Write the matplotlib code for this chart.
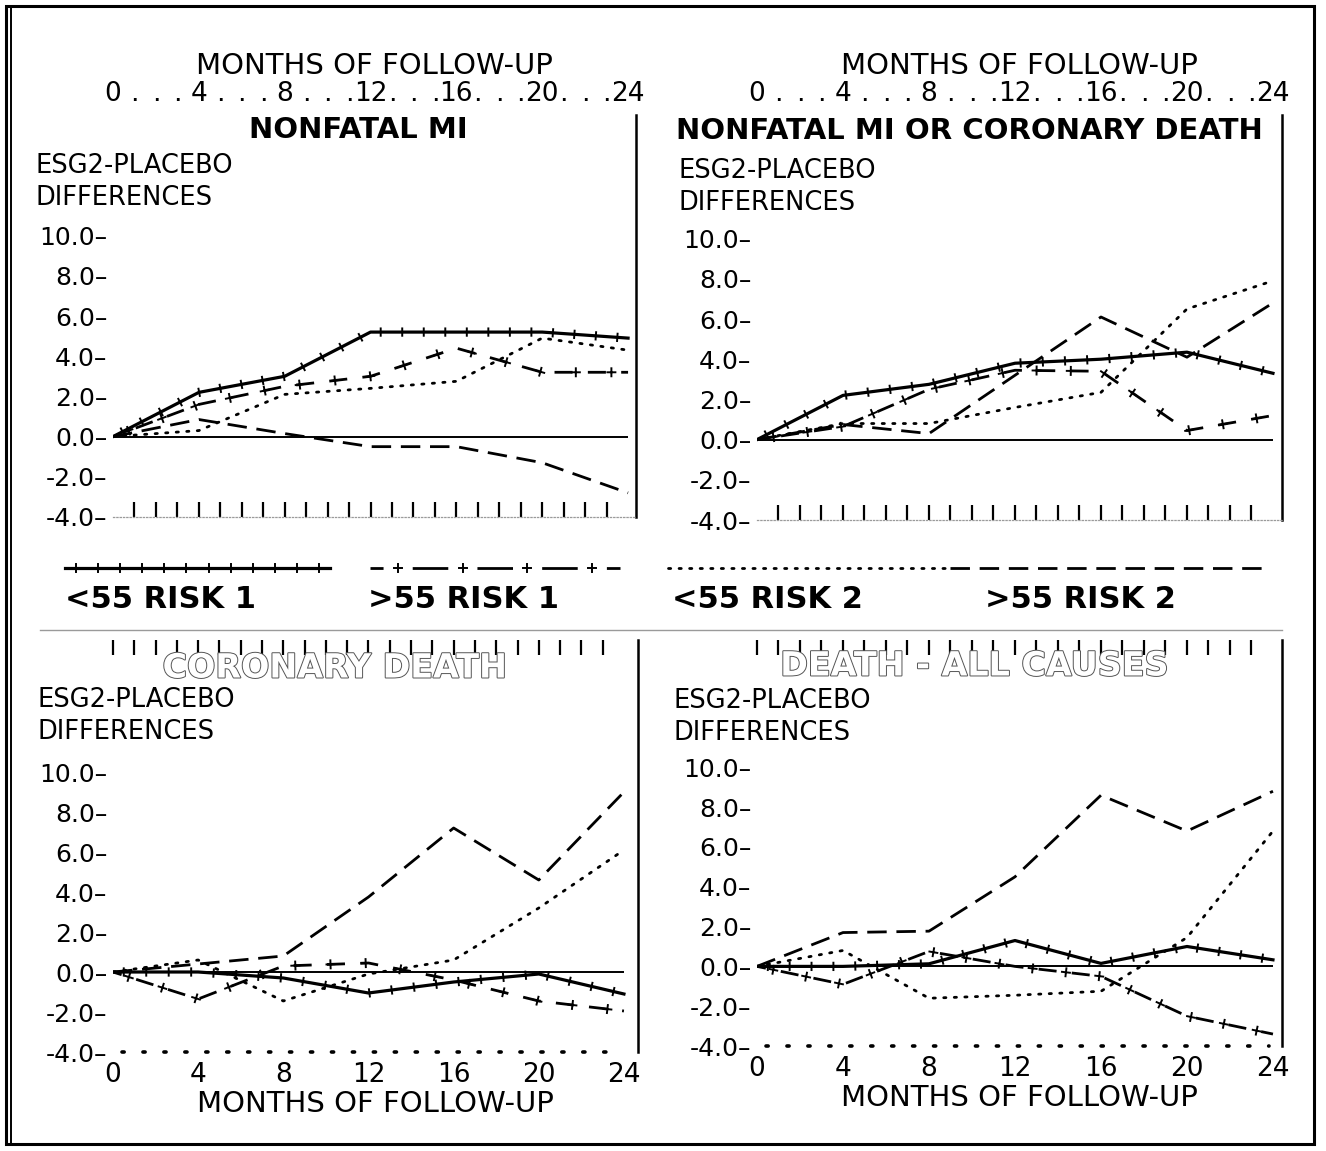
import matplotlib
matplotlib.use("Agg")
import matplotlib.pyplot as plt
import matplotlib.patheffects as pe
from matplotlib.patches import Rectangle
from matplotlib.lines import Line2D
from matplotlib.ticker import NullFormatter

plt.rcParams['font.family'] = ['DejaVu Sans']

W, H = 1326, 1151

# months of follow-up
months = [0, 4, 8, 12, 16, 20, 24]

# ESG2 - placebo differences
mi_lt55_r1 = [0.0, 2.2, 3.0, 5.2, 5.2, 5.2, 4.9]
mi_gt55_r1 = [0.0, 1.6, 2.5, 3.0, 4.4, 3.2, 3.2]
mi_lt55_r2 = [0.0, 0.3, 2.1, 2.4, 2.75, 4.9, 4.3]
mi_gt55_r2 = [0.0, 0.85, 0.15, -0.5, -0.5, -1.3, -2.8]

micd_lt55_r1 = [0.0, 2.2, 2.75, 3.8, 4.0, 4.35, 3.3]
micd_gt55_r1 = [0.0, 0.65, 2.5, 3.45, 3.4, 0.45, 1.2]
micd_lt55_r2 = [0.0, 0.8, 0.8, 1.6, 2.35, 6.5, 7.9]
micd_gt55_r2 = [0.0, 0.75, 0.3, 3.2, 6.1, 4.1, 6.8]

cd_lt55_r1 = [0.0, 0.0, -0.3, -1.05, -0.5, -0.1, -1.1]
cd_gt55_r1 = [0.0, -1.35, 0.3, 0.45, -0.4, -1.45, -1.95]
cd_lt55_r2 = [0.0, 0.6, -1.45, -0.1, 0.6, 3.2, 6.1]
cd_gt55_r2 = [0.0, 0.4, 0.8, 3.75, 7.2, 4.6, 9.0]

da_lt55_r1 = [0.0, 0.0, 0.13, 1.3, 0.15, 1.0, 0.33]
da_gt55_r1 = [0.0, -0.9, 0.75, 0.0, -0.5, -2.5, -3.4]
da_lt55_r2 = [0.0, 0.8, -1.6, -1.45, -1.25, 1.45, 6.8]
da_gt55_r2 = [0.0, 1.7, 1.77, 4.5, 8.6, 6.8, 8.8]

group_labels = ['<55 RISK 1', '>55 RISK 1', '<55 RISK 2', '>55 RISK 2']
y_ticks = [-4, -2, 0, 2, 4, 6, 8, 10]
x_major = [0, 4, 8, 12, 16, 20, 24]
x_dots = [m for m in range(25) if m % 4 != 0]


def plus_ticks(spacing, length, lw=1.4, arms=False):
    fx = [pe.TickedStroke(spacing=spacing, angle=90, length=length, linewidth=lw),
          pe.TickedStroke(spacing=spacing, angle=-90, length=length, linewidth=lw)]
    if arms:
        fx += [pe.TickedStroke(spacing=spacing, angle=0, length=length, linewidth=lw),
               pe.TickedStroke(spacing=spacing, angle=180, length=length, linewidth=lw)]
    return fx


def draw_series(ax, x, y, kind, plus_gap=24, dash=(3.25, (6.5, 5.5))):
    if kind == 0:
        ax.plot(x, y, color='black', lw=2.3, solid_joinstyle='round')
        ax.plot(x, y, color='black', lw=1.4, path_effects=plus_ticks(15.5, 0.17))
    elif kind == 1:
        ax.plot(x, y, color='black', lw=2.0, linestyle=dash)
        ax.plot(x, y, color='black', lw=1.4,
                path_effects=plus_ticks(plus_gap, 0.12 * 24 / plus_gap, arms=True))
    elif kind == 2:
        ax.plot(x, y, color='black', lw=2.0, linestyle=(0, (0.8, 3.0)),
                dash_capstyle='round')
    else:
        ax.plot(x, y, color='black', lw=2.0, linestyle=(0, (7, 3.5)))


panels = [
    dict(rect=(113, 115, 636, 517), xmax=24.37, ymax=16.0, top=True,
         title='NONFATAL MI', title_x=0.47, title_y=0.962, outline=False,
         lab_x=-0.149, lab_y=0.905,
         data=[mi_lt55_r1, mi_gt55_r1, mi_lt55_r2, mi_gt55_r2]),
    dict(rect=(757, 115, 1282, 520), xmax=24.42, ymax=16.15, top=True,
         title='NONFATAL MI OR CORONARY DEATH', title_x=0.405, title_y=0.96, outline=False,
         lab_x=-0.15, lab_y=0.895,
         data=[micd_lt55_r1, micd_gt55_r1, micd_lt55_r2, micd_gt55_r2]),
    dict(rect=(113, 640, 638, 1052), xmax=24.66, ymax=16.6, top=False,
         title='CORONARY DEATH', title_x=0.423, title_y=0.932, outline=True,
         lab_x=-0.143, lab_y=0.885,
         data=[cd_lt55_r1, cd_gt55_r1, cd_lt55_r2, cd_gt55_r2]),
    dict(rect=(757, 640, 1282, 1046), xmax=24.42, ymax=16.4, top=False,
         title='DEATH - ALL CAUSES', title_x=0.415, title_y=0.936, outline=True,
         lab_x=-0.16, lab_y=0.882,
         data=[da_lt55_r1, da_gt55_r1, da_lt55_r2, da_gt55_r2]),
]

fig = plt.figure(figsize=(W / 100, H / 100), dpi=100)
fig.patch.set_facecolor('white')

for p in panels:
    x0, y0, x1, y1 = p['rect']
    ax = fig.add_axes([x0 / W, 1 - y1 / H, (x1 - x0) / W, (y1 - y0) / H])
    ax.set_xlim(0, p['xmax'])
    ax.set_ylim(-4, p['ymax'])
    for s in ['left', 'top', 'bottom']:
        ax.spines[s].set_visible(False)
    ax.spines['right'].set_linewidth(1.8)

    ax.set_yticks(y_ticks, [f'{v:.1f}–' for v in y_ticks])
    ax.tick_params(axis='y', length=0, pad=4, labelsize=18)

    if p['top']:
        ax.xaxis.tick_top()
        ax.xaxis.set_label_position('top')
        ax.set_xticks(x_major, [str(m) for m in x_major])
        ax.set_xticks(x_dots, ['.'] * len(x_dots), minor=True)
        ax.tick_params(axis='x', which='both', length=0, pad=6, labelsize=19)
        ax.set_xlabel('MONTHS OF FOLLOW-UP', fontsize=21, labelpad=5)
        sec = ax.secondary_xaxis('bottom')
        sec.set_xticks(list(range(1, 24)))
        sec.xaxis.set_major_formatter(NullFormatter())
        sec.tick_params(direction='in', length=11, width=1.6)
        for s in sec.spines.values():
            s.set_visible(False)
        ax.spines['bottom'].set_visible(True)
        ax.spines['bottom'].set_color('#9a9a9a')
        ax.spines['bottom'].set_linewidth(0.9)
        ax.spines['bottom'].set_linestyle(':')
    else:
        ax.set_xticks(x_major, [str(m) for m in x_major])
        ax.tick_params(axis='x', length=0, pad=7, labelsize=19)
        ax.set_xlabel('MONTHS OF FOLLOW-UP', fontsize=21, labelpad=2)
        sec = ax.secondary_xaxis('top')
        sec.set_xticks(list(range(0, 24)))
        sec.xaxis.set_major_formatter(NullFormatter())
        sec.tick_params(direction='in', length=11, width=1.6)
        for s in sec.spines.values():
            s.set_visible(False)
        ax.hlines(-4, 0.4, 23.8, color='black', lw=2.6, linestyles=(0, (0.6, 5.2)),
                  capstyle='round', clip_on=False)

    ax.hlines(0, 0, 24, color='black', lw=1.4)
    for kind, vals in enumerate(p['data']):
        draw_series(ax, months, vals, kind)

    if p['outline']:
        ax.text(p['title_x'], p['title_y'], p['title'], transform=ax.transAxes,
                ha='center', va='center', fontsize=24, fontweight='bold', color='white',
                path_effects=[pe.withStroke(linewidth=1.4, foreground='#555555')])
    else:
        ax.text(p['title_x'], p['title_y'], p['title'], transform=ax.transAxes,
                ha='center', va='center', fontsize=21, fontweight='bold', clip_on=False)
    ax.text(p['lab_x'], p['lab_y'], 'ESG2-PLACEBO\nDIFFERENCES', transform=ax.transAxes,
            ha='left', va='top', fontsize=18.5, linespacing=1.3, clip_on=False)

# legend strip between the two rows of panels
leg = fig.add_axes([0, 1 - 622 / H, 1, 82 / H])
leg.set_xlim(0, W)
leg.set_ylim(622, 540)
leg.axis('off')
key_spans = [(65, 330), (370, 620), (668, 950), (950, 1270)]
label_x = [65, 368, 672, 985]
for kind, (a, b) in enumerate(key_spans):
    draw_series(leg, [a, b], [568, 568], kind, plus_gap=40, dash=(8.1, (12.8, 10.5)))
    leg.text(label_x[kind], 600, group_labels[kind], ha='left', va='center',
             fontsize=22, fontweight='bold')

# separators and outer frame
fig.add_artist(Line2D([40 / W, 1282 / W], [1 - 630 / H, 1 - 630 / H],
                      transform=fig.transFigure, color='#9a9a9a', lw=1.0))
fig.add_artist(Rectangle((6 / W, 1 - 1144 / H), 1308 / W, 1138 / H, transform=fig.transFigure,
                         fill=False, lw=2.2, edgecolor='black'))
fig.add_artist(Line2D([11 / W, 11 / W], [1 - 1144 / H, 1 - 6 / H],
                      transform=fig.transFigure, color='black', lw=1.4))

fig.savefig('out.png', dpi=100)
